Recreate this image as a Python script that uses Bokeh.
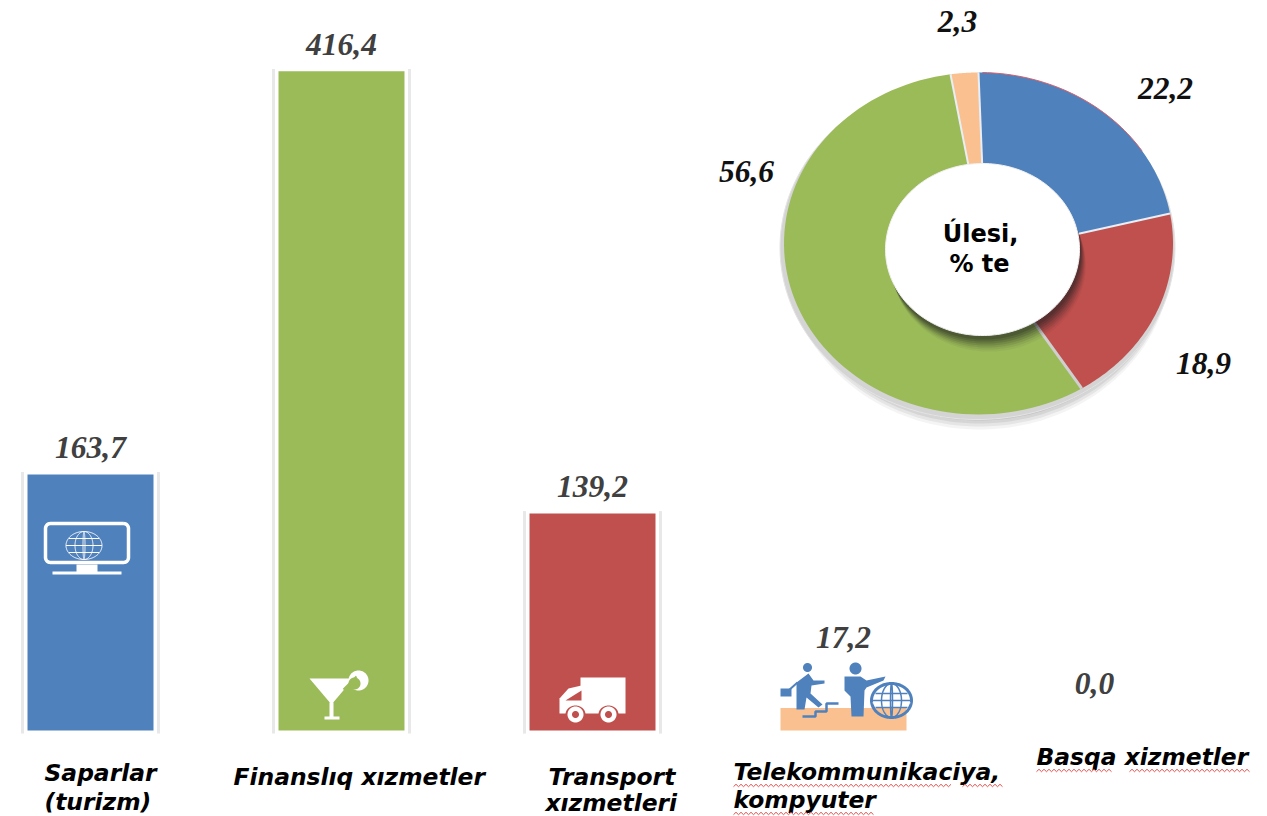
import numpy as np
from bokeh.plotting import figure
from bokeh.models import Range1d
from bokeh.core.properties import value
from bokeh.embed import file_html
from bokeh.resources import INLINE

# ---- data ----
categories = ["Saparlar (turizm)", "Finanslıq xızmetler", "Transport xızmetleri",
              "Telekommunikaciya, kompyuter", "Basqa xizmetler"]
bar_values = [163.7, 416.4, 139.2, 17.2, 0.0]
bar_labels = ["163,7", "416,4", "139,2", "17,2", "0,0"]
bar_colors = ["#4f81bd", "#9bbb59", "#c0504d", "#fac090", "#ffffff"]
share_values = [22.2, 18.9, 56.6, 2.3]
share_labels = ["22,2", "18,9", "56,6", "2,3"]
share_colors = ["#4f81bd", "#c0504d", "#9bbb59", "#fac090"]

# ---- layout (page pixels) ----
W, H = 1267, 816
PX0, PY0 = 0, 0
ZERO_Y, PX_PER_UNIT = 735.0, 1.595
X0, STEP = 90.0, 251.0
BAR_W = 126 / STEP
BAR_FOOT = 3.2

p = figure(width=W, height=H, output_backend="svg", toolbar_location=None,
           x_range=Range1d((PX0 - X0) / STEP, (PX0 + W - X0) / STEP),
           y_range=Range1d((ZERO_Y - (PY0 + H)) / PX_PER_UNIT, (ZERO_Y - PY0) / PX_PER_UNIT),
           min_border=0, min_border_left=0, min_border_right=0, min_border_top=0, min_border_bottom=0,
           outline_line_color=None, background_fill_color="white", border_fill_color="white")
p.axis.visible = False
p.grid.visible = False
p.extra_x_ranges["px"] = Range1d(PX0, PX0 + W)
p.extra_y_ranges["px"] = Range1d(PY0 + H, PY0)
P = dict(x_range_name="px", y_range_name="px")

xs = list(range(len(categories)))

# faint bar frames
for i in range(3):
    for side in (-1, 1):
        dx = side * 68 / STEP
        p.segment([i + dx], [bar_values[i] + 1.5], [i + dx], [1.2], line_color="#e8e8e8", line_width=3)

p.vbar(x=xs[:4], top=bar_values[:4], bottom=BAR_FOOT, width=BAR_W,
       fill_color=bar_colors[:4], line_color=None)

# value labels over the bars
offsets = [-27, -27, -27, -71, -52]
for i in xs:
    p.text([i], [bar_values[i]], text=[bar_labels[i]], y_offset=offsets[i],
           text_font=value("Liberation Serif"), text_font_style="bold italic",
           text_font_size="31.5px", text_color="#404040", text_align="center", text_baseline="middle")

# ---------- donut ----------
CX, CY, RX, RY = 978.0, 243.0, 194.5, 171.0
HX, HY, HRX, HRY = 982.0, 249.0, 97.0, 86.0

def ell(cx, cy, rx, ry, a0=0.0, a1=2 * np.pi, n=180):
    t = np.linspace(a0, a1, n)
    return cx + rx * np.sin(t), cy - ry * np.cos(t)

# soft outer shadow
for k, a in zip([17, 14, 11, 8, 5], [0.07, 0.10, 0.12, 0.14, 0.16]):
    ex, ey = ell(CX + 1, CY + k - 1, RX - 3, RY - 1)
    p.patch(ex, ey, fill_color="#606060", fill_alpha=a, line_color=None, **P)
ex, ey = ell(CX - 1, CY + 4, RX + 3, RY + 1)
p.patch(ex, ey, fill_color="#d4d4d4", line_color="#e4e4e4", line_width=1, **P)

cum = np.cumsum([0.0] + share_values) / 100 * 2 * np.pi
for i, col in enumerate(share_colors):
    ox, oy = ell(CX, CY, RX, RY, cum[i], cum[i + 1], 90)
    ix, iy = ell(HX, HY, HRX * .9, HRY * .9, cum[i + 1], cum[i], 60)
    p.patch(np.r_[ox, ix], np.r_[oy, iy], fill_color=col, line_color=None, **P)

# separators between slices
for i, a in enumerate(cum[:4]):
    ox, oy = ell(CX, CY, RX, RY, a, a, 2)
    ix, iy = ell(HX, HY, HRX * .9, HRY * .9, a, a, 2)
    p.line([ox[0], ix[0]], [oy[0], iy[0]], line_color="#cfcfcf" if i == 2 else "#e8eef5",
           line_width=3 if i == 2 else 2, **P)
ax, ay = ell(CX, CY, RX, RY, 0.02, 1.0, 40)
p.line(ax, ay, line_color="#d8606a", line_width=1, **P)

# shadow and hole
for k, a in zip([16, 14, 12, 10, 8, 6, 4], [0.05, 0.08, 0.10, 0.13, 0.16, 0.18, 0.2]):
    ex, ey = ell(HX + k * .4, HY + k, HRX, HRY)
    p.patch(ex, ey, fill_color="#202020", fill_alpha=a, line_color=None, **P)
ex, ey = ell(HX, HY, HRX, HRY)
p.patch(ex, ey, fill_color="white", line_color="#f0f0f0", line_width=1, **P)

def txt(x, y, s, font, size, color="black", style="bold italic", align="left"):
    p.text([x], [y], text=[s], text_font=value(font), text_font_style=style, text_font_size=size,
           text_color=color, text_align=align, text_baseline="middle", **P)

txt(980, 233, "Úlesi,", "DejaVu Sans", "24px", style="bold", align="center")
txt(979, 263, "% te", "DejaVu Sans", "24px", style="bold", align="center")

for (lx, ly), s in zip([(1165, 88), (1203, 363), (746, 171), (957, 21)], share_labels):
    txt(lx, ly, s, "Liberation Serif", "31.5px", color="#111111", align="center")

# ---------- category labels ----------
LAB = ("DejaVu Sans", "23.4px")
txt(44, 772, "Saparlar", *LAB)
txt(44, 801, "(turizm)", *LAB)
txt(233, 776, "Finanslıq xızmetler", *LAB)
txt(548, 776, "Transport", *LAB)
txt(545, 802, "xızmetleri", *LAB)
txt(733, 771, "Telekommunikaciya,", *LAB)
txt(733, 799, "kompyuter", *LAB)
txt(1036, 756, "Basqa xizmetler", *LAB)

def squiggle(x0, x1, y):
    x = np.arange(x0, x1 + .1, 2.5)
    yy = y + np.where(np.arange(len(x)) % 2 == 0, 1.2, -1.2)
    p.line(x, yy, line_color="#e05050", line_width=1, **P)

for a, b, y in [(733, 952, 785), (962, 1004, 785), (733, 875, 813), (1036, 1113, 770), (1129, 1251, 770)]:
    squiggle(a, b, y)

# ---------- icons ----------
W_ = "white"
def rpath(x0, y0, x1, y1, r):
    cs = [(x1 - r, y0 + r, 0), (x1 - r, y1 - r, np.pi / 2), (x0 + r, y1 - r, np.pi), (x0 + r, y0 + r, 1.5 * np.pi)]
    X, Y = [], []
    for cx, cy, a in cs:
        t = np.linspace(a, a + np.pi / 2, 8)
        X += list(cx + r * np.sin(t)); Y += list(cy - r * np.cos(t))
    return X + X[:1], Y + Y[:1]

# monitor
mx, my = rpath(45, 523, 128, 562, 5)
p.line(mx, my, line_color=W_, line_width=3.5, **P)
p.quad(left=76, right=97, top=564, bottom=572, fill_color=W_, line_color=None, **P)
p.quad(left=52, right=121, top=571, bottom=574, fill_color=W_, line_color=None, **P)
gx, gy = 83.5, 545
for rx_, ry_ in [(18, 14), (9, 14), (1, 14)]:
    ex, ey = ell(gx, gy, rx_, ry_)
    p.line(ex, ey, line_color=W_, line_width=1, **P)
for d, hw in [(-7, 15), (0, 18), (7, 15)]:
    p.line([gx - hw, gx + hw], [gy + d, gy + d], line_color=W_, line_width=1, **P)

# cocktail
p.patch([309, 353, 331], [678, 678, 704], fill_color=W_, line_color=None, **P)
p.quad(left=329, right=333, top=702, bottom=717, fill_color=W_, line_color=None, **P)
p.quad(left=324, right=339, top=716, bottom=719, fill_color=W_, line_color=None, **P)
ex, ey = ell(358, 680, 10, 10)
p.patch(ex, ey, fill_color=W_, line_color=None, **P)
ex, ey = ell(354, 683, 6, 6)
p.patch(ex, ey, fill_color="#9bbb59", line_color=None, **P)
p.line([343, 356], [689, 676], line_color="#9bbb59", line_width=2, **P)

# truck
p.quad(left=580, right=625, top=677, bottom=713, fill_color=W_, line_color=None, **P)
p.patch([581, 568, 559, 559, 581], [685, 688, 698, 713, 713], fill_color=W_, line_color=None, **P)
p.patch([565, 581, 581], [700, 690, 700], fill_color="#c0504d", line_color=None, **P)
for wx in (575, 608):
    ex, ey = ell(wx, 714, 10, 9); p.patch(ex, ey, fill_color="#c0504d", line_color=None, **P)
    ex, ey = ell(wx, 714, 8, 8); p.patch(ex, ey, fill_color=W_, line_color=None, **P)
    ex, ey = ell(wx, 714, 3.5, 3.5); p.patch(ex, ey, fill_color="#c0504d", line_color=None, **P)

# people and globe
B = "#4f81bd"
ex, ey = ell(807, 667, 4.5, 4.5); p.patch(ex, ey, fill_color=B, line_color=None, **P)
p.patch([796, 808, 813, 824, 824, 811, 810, 822, 818, 806, 804, 796],
        [682, 673, 680, 680, 683, 685, 693, 704, 707, 697, 709, 709], fill_color=B, line_color=None, **P)
p.line([797, 788], [682, 690], line_color=B, line_width=2, **P)
p.quad(left=780, right=791, top=688, bottom=696, fill_color=B, line_color=None, **P)
p.line([802, 815, 815, 826, 826, 838], [716, 716, 711, 711, 703, 703], line_color=B, line_width=2.5, **P)
ex, ey = ell(855, 668, 6, 6); p.patch(ex, ey, fill_color=B, line_color=None, **P)
p.patch([844, 860, 866, 885, 883, 866, 864, 863, 851, 850, 844],
        [676, 676, 680, 676, 680, 687, 690, 716, 716, 696, 690], fill_color=B, line_color=None, **P)
ex, ey = ell(891, 700, 20, 17)
p.patch(ex, ey, fill_color="white", fill_alpha=0.0, line_color=B, line_width=3, **P)
for rx_ in (10, 1):
    ex, ey = ell(891, 700, rx_, 17)
    p.line(ex, ey, line_color=B, line_width=1.5, **P)
for d, hw in [(-7, 16), (0, 20), (7, 16)]:
    p.line([891 - hw, 891 + hw], [700 + d, 700 + d], line_color=B, line_width=1.5, **P)

open("out.html", "w").write(file_html(p, INLINE))
